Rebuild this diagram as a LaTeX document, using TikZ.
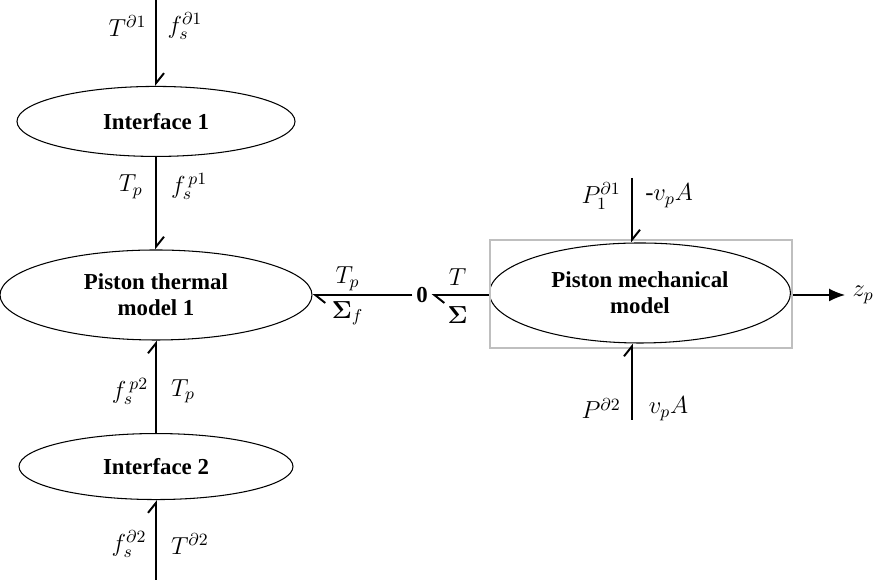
\RequirePackage{fix-cm}
\documentclass[tikz,border=0pt]{standalone}
\usepackage{amsmath}
\usepackage{bm}
\usepackage{fontspec}
\setmainfont{Liberation Serif}
\usetikzlibrary{arrows.meta,positioning,shapes.geometric}

\begin{document}
\begin{tikzpicture}[
			x=0.2mm, y=0.2mm,
			node distance=18.5mm,
			model/.style={draw, ellipse, line width=0.6pt, font=\bfseries\fontsize{13}{15}\selectfont, align=center, inner sep=0pt},
			bond/.style={line width=1.1pt, -{Straight Barb[left, length=2mm, width=3.2mm]}},
			signal/.style={line width=0.8pt, -{Latex[length=3.2mm, width=2.6mm]}},
			lbl/.style={font=\fontsize{14}{16}\selectfont, inner sep=1pt}
			]
			\useasboundingbox (0,0) rectangle (888,580);
			\node[model, minimum width=62.4mm, minimum height=18mm] (therm) at (156,285) {Piston thermal\\model 1};
			\node[model, minimum width=55.6mm, minimum height=14mm, above=of therm] (if1) {Interface 1};
			\node[model, minimum width=54.8mm, minimum height=13.2mm, below=of therm] (if2) {Interface 2};
			\node[font=\bfseries\fontsize{13}{15}\selectfont, inner sep=2pt] (zero) at (422,285) {0};
			\node[model, minimum width=60.2mm, minimum height=20mm] (mech) at (640,287) {Piston mechanical\\model};
			\node[draw=black!25, line width=0.9pt, minimum width=60.4mm, minimum height=21.6mm] (mechbox) at (641,286) {};
			
			\coordinate (top) at (156,580);
			\coordinate (bot) at (156,0);
			\coordinate (mtop) at (632,402);
			\coordinate (mbot) at (632,160);
			\coordinate (zp) at (845,285);
			
			\draw[bond] (top) -- node[lbl,pos=0.3,left=4pt] {$T^{\partial 1}$} node[lbl,pos=0.3,right=5pt] {$f_s^{\partial 1}$} (if1);
			\draw[bond] (if1) -- node[lbl,pos=0.32,left=6pt] {$T_p$} node[lbl,pos=0.32,right=7pt] {$f_s^{\,p1}$} (therm);
			\draw[bond] (if2) -- node[lbl,pos=0.45,left=3pt] {$f_s^{\,p2}$} node[lbl,pos=0.45,right=7pt] {$T_p$} (therm);
			\draw[bond] (bot) -- node[lbl,pos=0.45,left=4pt] {$f_s^{\partial 2}$} node[lbl,pos=0.45,right=7pt] {$T^{\partial 2}$} (if2);
			\draw[bond] (zero) -- node[lbl,pos=0.65,above=1pt] {$T_p$} node[lbl,pos=0.65,below=2pt] {$\bm\Sigma_f$} (therm);
			\draw[bond] (mechbox.west |- zero) -- node[lbl,pos=0.55,above=4pt] {$T$} node[lbl,pos=0.55,below=5pt] {$\bm\Sigma$} (zero);
			\draw[bond] (mtop) -- node[lbl,pos=0.28,left=5pt] {$P_1^{\partial 1}$} node[lbl,pos=0.28,right=6pt] {$\text{-}v_pA$} (mtop |- mech.north);
			\draw[bond] (mbot) -- node[lbl,pos=0.15,left=5pt] {$P^{\partial 2}$} node[lbl,pos=0.15,right=8pt] {$v_pA$} (mbot |- mech.south);
			\draw[signal] (mechbox.east |- zero) -- (zp) node[lbl,right=3pt] {$z_p$};
		\end{tikzpicture}
\end{document}
